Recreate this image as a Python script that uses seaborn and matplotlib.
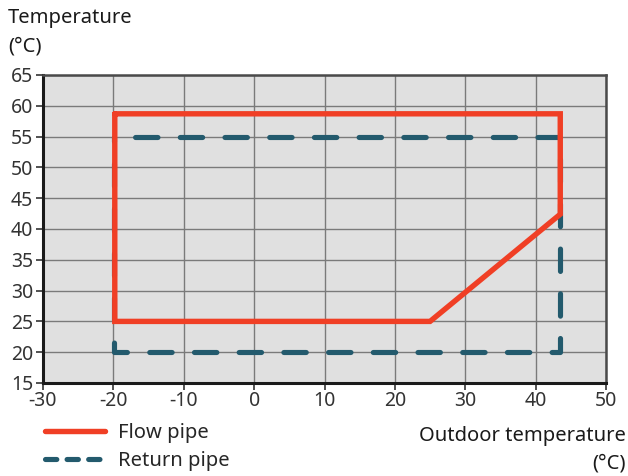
import matplotlib
matplotlib.use("Agg")
import matplotlib.pyplot as plt
import seaborn as sns
import pandas as pd
from matplotlib.lines import Line2D

# Operating envelope of the heat pump
flow_x = [-19.8, 43.5, 43.5, 25, -19.8, -19.8]
flow_y = [58.7, 58.7, 42.4, 25, 25, 58.7]
return_x = [-19.85, -19.85, 43.4, 43.4, -19.85]
return_y = [55, 20, 20, 55, 55]

x_ticks = [-30, -20, -10, 0, 10, 20, 30, 40, 50]
y_ticks = [15, 20, 25, 30, 35, 40, 45, 50, 55, 60, 65]

flow_color = "#f03f25"
return_color = "#235a6d"

sns.set_theme(style="white")
plt.rcParams["font.family"] = ["Noto Sans", "DejaVu Sans"]
plt.rcParams["axes.unicode_minus"] = False

fig = plt.figure(figsize=(6.28, 4.76), dpi=100)
ax = fig.add_axes([43 / 628, 1 - 383 / 476, (606 - 43) / 628, (383 - 75) / 476])
ax.set_facecolor("#e0e0e0")

ret_df = pd.DataFrame({"x": return_x, "y": return_y})
flow_df = pd.DataFrame({"x": flow_x, "y": flow_y})

sns.lineplot(data=ret_df, x="x", y="y", sort=False, estimator=None, ax=ax,
             color=return_color, lw=3.7, zorder=3)
ax.lines[-1].set_linestyle((3.5, (4.35, 4.35)))
ax.lines[-1].set_dash_capstyle("round")
sns.lineplot(data=flow_df, x="x", y="y", sort=False, estimator=None, ax=ax,
             color=flow_color, lw=3.9, zorder=4)
ax.lines[-1].set_solid_joinstyle("miter")

ax.set_xlim(-30, 50)
ax.set_ylim(15, 65)
ax.set_xticks(x_ticks)
ax.set_yticks(y_ticks)
ax.set_xlabel("")
ax.set_ylabel("")
ax.grid(True, color="#7a7a7a", lw=1.0)
ax.set_axisbelow(True)

for side in ["left", "bottom"]:
    ax.spines[side].set_color("#1a1a1a")
    ax.spines[side].set_linewidth(2.2)
for side in ["top", "right"]:
    ax.spines[side].set_color("#4a4a4a")
    ax.spines[side].set_linewidth(1.8)

ax.tick_params(axis="both", which="major", direction="out", length=5, width=1.2,
               color="#333333", labelcolor="#333333", labelsize=14, pad=2)
ax.tick_params(axis="x", bottom=True, pad=1)
ax.tick_params(axis="y", left=True)

fig.text(8 / 628, 1 - 8 / 476, "Temperature\n(°C)", ha="left", va="top",
         fontsize=14.5, color="#1a1a1a", linespacing=1.55)
fig.text(626 / 628, 1 - 426 / 476, "Outdoor temperature\n(°C)", ha="right", va="top",
         fontsize=14.5, color="#1a1a1a", linespacing=1.5, multialignment="right")

handles = [
    Line2D([], [], color=flow_color, lw=3.9, solid_capstyle="round"),
    Line2D([], [], color=return_color, lw=3.7, dashes=(2.2, 2.0), dash_capstyle="round"),
]
fig.legend(handles, ["Flow pipe", "Return pipe"], loc="upper left",
           bbox_to_anchor=(44.5 / 628, 1 - 423 / 476), frameon=False,
           handlelength=3.0, handletextpad=0.67, labelspacing=0.4,
           borderpad=0, borderaxespad=0, fontsize=14.5)

fig.savefig("out.png", dpi=100)
